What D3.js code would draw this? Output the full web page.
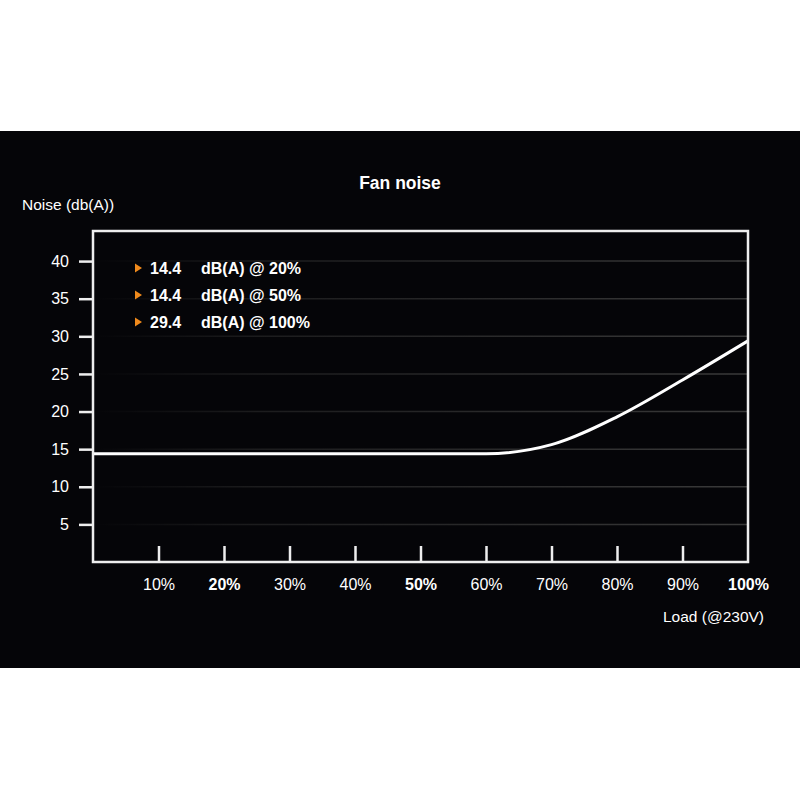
<!DOCTYPE html>
<html>
<head>
<meta charset="utf-8">
<script src="https://cdn.jsdelivr.net/npm/d3@7"></script>
<style>
  html, body { margin: 0; padding: 0; background: #fff; }
  svg { display: block; font-family: "Liberation Sans", Arial, sans-serif; }
</style>
</head>
<body>
<svg id="chart" width="800" height="800"></svg>
<script>
// load in % and fan noise in dB(A)
const loads = [0, 10, 20, 30, 40, 50, 60, 70, 80, 90, 100]
const noise = [14.4, 14.4, 14.4, 14.4, 14.4, 14.4, 14.4, 15.6, 19.3, 24.2, 29.4]
const xTicks = [10, 20, 30, 40, 50, 60, 70, 80, 90, 100]
const boldTicks = [20, 50, 100]
const yTicks = [5, 10, 15, 20, 25, 30, 35, 40]
const legendValues = ['14.4', '14.4', '29.4']
const legendLabels = ['dB(A) @ 20%', 'dB(A) @ 50%', 'dB(A) @ 100%']

const font = '"Liberation Sans", Arial, sans-serif'
const margin = { top: 231, right: 52, bottom: 238, left: 93 }
const width = 800 - margin.left - margin.right
const height = 800 - margin.top - margin.bottom

const svg = d3.select('#chart')

// dark panel
svg.append('rect')
    .attr('x', 0).attr('y', 131)
    .attr('width', 800).attr('height', 537)
    .attr('fill', '#050508')

const defs = svg.append('defs')
const grad = defs.append('linearGradient')
    .attr('id', 'gridFade')
    .attr('gradientUnits', 'userSpaceOnUse')
    .attr('x1', 0).attr('x2', width).attr('y1', 0).attr('y2', 0)
grad.append('stop').attr('offset', '0%').attr('stop-color', '#333').attr('stop-opacity', 0)
grad.append('stop').attr('offset', '25%').attr('stop-color', '#333').attr('stop-opacity', 0.5)
grad.append('stop').attr('offset', '100%').attr('stop-color', '#3a3a3a').attr('stop-opacity', 1)

const g = svg.append('g')
    .attr('transform', `translate(${margin.left},${margin.top})`)

const x = d3.scaleLinear()
    .domain([0, 100])
    .range([0, width])

const y = d3.scaleLinear()
    .domain([0, 44])
    .range([height, 0])

// grid lines
g.selectAll('.grid')
    .data(yTicks)
    .enter()
    .append('line')
    .attr('class', 'grid')
    .attr('x1', 0).attr('x2', width)
    .attr('y1', d => y(d)).attr('y2', d => y(d))
    .attr('stroke', 'url(#gridFade)')
    .attr('stroke-width', 1.5)

// y axis: ticks outside the frame
const yAxis = d3.axisLeft(y)
    .tickValues(yTicks)
    .tickSize(14)
    .tickPadding(10)

const yg = g.append('g').call(yAxis)
yg.select('.domain').remove()
yg.selectAll('line').attr('stroke', '#eee').attr('stroke-width', 2.5)
yg.selectAll('text')
    .attr('fill', '#fff')
    .attr('font-size', 16)
    .attr('font-family', font)

// x axis: ticks inside the frame
const xAxis = d3.axisBottom(x)
    .tickValues(xTicks)
    .tickSize(-16)
    .tickPadding(17)
    .tickFormat(d => d + '%')

const xg = g.append('g')
    .attr('transform', `translate(0,${height})`)
    .call(xAxis)
xg.select('.domain').remove()
xg.selectAll('line')
    .attr('stroke', '#eee')
    .attr('stroke-width', 2.5)
    .attr('display', d => d === 100 ? 'none' : null)
xg.selectAll('text')
    .attr('fill', '#fff')
    .attr('font-size', 16)
    .attr('font-weight', d => boldTicks.includes(d) ? 'bold' : 'normal')
    .attr('font-family', font)

// the curve
const line = d3.line()
    .x((d, i) => x(loads[i]))
    .y(d => y(d))
    .curve(d3.curveMonotoneX)

g.append('path')
    .datum(noise)
    .attr('d', line)
    .attr('fill', 'none')
    .attr('stroke', '#fff')
    .attr('stroke-width', 3)

// frame
g.append('rect')
    .attr('width', width)
    .attr('height', height)
    .attr('fill', 'none')
    .attr('stroke', '#eee')
    .attr('stroke-width', 2.5)

// legend
const legend = g.selectAll('.legend')
    .data(legendValues)
    .enter()
    .append('g')
    .attr('class', 'legend')
    .attr('transform', (d, i) => `translate(42,${37 + i * 27})`)

legend.append('path')
    .attr('d', 'M0,-4.5 L7,0 L0,4.5 Z')
    .attr('fill', '#f08a1c')

legend.append('text')
    .attr('x', 15).attr('y', 6)
    .attr('fill', '#fff')
    .attr('font-size', 16)
    .attr('font-weight', 'bold')
    .text(d => d)

legend.append('text')
    .attr('x', 66).attr('y', 6)
    .attr('fill', '#fff')
    .attr('font-size', 16)
    .attr('font-weight', 'bold')
    .text((d, i) => legendLabels[i])

// titles
svg.append('text')
    .attr('x', 400).attr('y', 189)
    .attr('text-anchor', 'middle')
    .attr('fill', '#fff')
    .attr('font-size', 17.5)
    .attr('font-weight', 'bold')
    .text('Fan noise')

svg.append('text')
    .attr('x', 22).attr('y', 210)
    .attr('fill', '#fff')
    .attr('font-size', 15.5)
    .text('Noise (db(A))')

svg.append('text')
    .attr('x', 764).attr('y', 622)
    .attr('text-anchor', 'end')
    .attr('fill', '#fff')
    .attr('font-size', 15.5)
    .text('Load (@230V)')
</script>
</body>
</html>
